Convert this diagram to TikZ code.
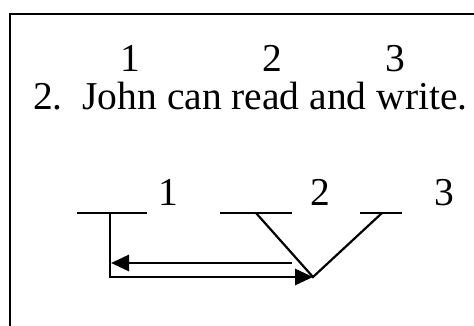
\documentclass[tikz,border=0pt]{standalone}
\usepackage{fontspec}
\setmainfont{Liberation Serif}
\usetikzlibrary{arrows.meta}

\begin{document}
\begin{tikzpicture}[
  x=1pt, y=-1pt,
  word/.style={font=\fontsize{39.5}{47}\selectfont, inner sep=0pt, anchor=base},
  blank/.style={line width=2.2pt},
  link/.style={line width=2.2pt},
  move/.style={line width=2.8pt, -{Triangle[length=18pt, width=16pt]}},
]
  \useasboundingbox (0,0) rectangle (474,326);

  % Frame
  \draw[line width=2.6pt] (10,330) |- (480,14);

  % Sentence with positions
  \node[word] (t1) at (130,72) {1};
  \node[word] (t2) at (272,72) {2};
  \node[word] (t3) at (395,72) {3};
  \node[word, anchor=base west] (sent) at (33,110) {2.\hspace{0.5em}John can read and write.};

  % Blanks
  \coordinate (b1l) at (77,213);  \coordinate (b1r) at (147,213);
  \coordinate (b2l) at (220,213); \coordinate (b2r) at (292,213);
  \coordinate (b3l) at (360,213); \coordinate (b3r) at (402,213);
  \draw[blank] (b1l) -- (b1r);
  \draw[blank] (b2l) -- (b2r);
  \draw[blank] (b3l) -- (b3r);
  \node[word] (s1) at (168,205) {1};
  \node[word] (s2) at (320,205) {2};
  \node[word] (s3) at (444,205) {3};

  % Links
  \coordinate (v1) at (110,213);
  \coordinate (c1) at (110,277);
  \coordinate (apex) at (313,277);
  \coordinate (d2) at (256,213);
  \coordinate (d3) at (382,213);
  \coordinate (back) at (292,263);
  \coordinate (backend) at (111,263);
  \draw[link] (d2) -- (apex) -- (d3);
  \draw[move] (v1) -- (c1) -- (apex);
  \draw[move] (back) -- (backend);

\end{tikzpicture}
\end{document}
